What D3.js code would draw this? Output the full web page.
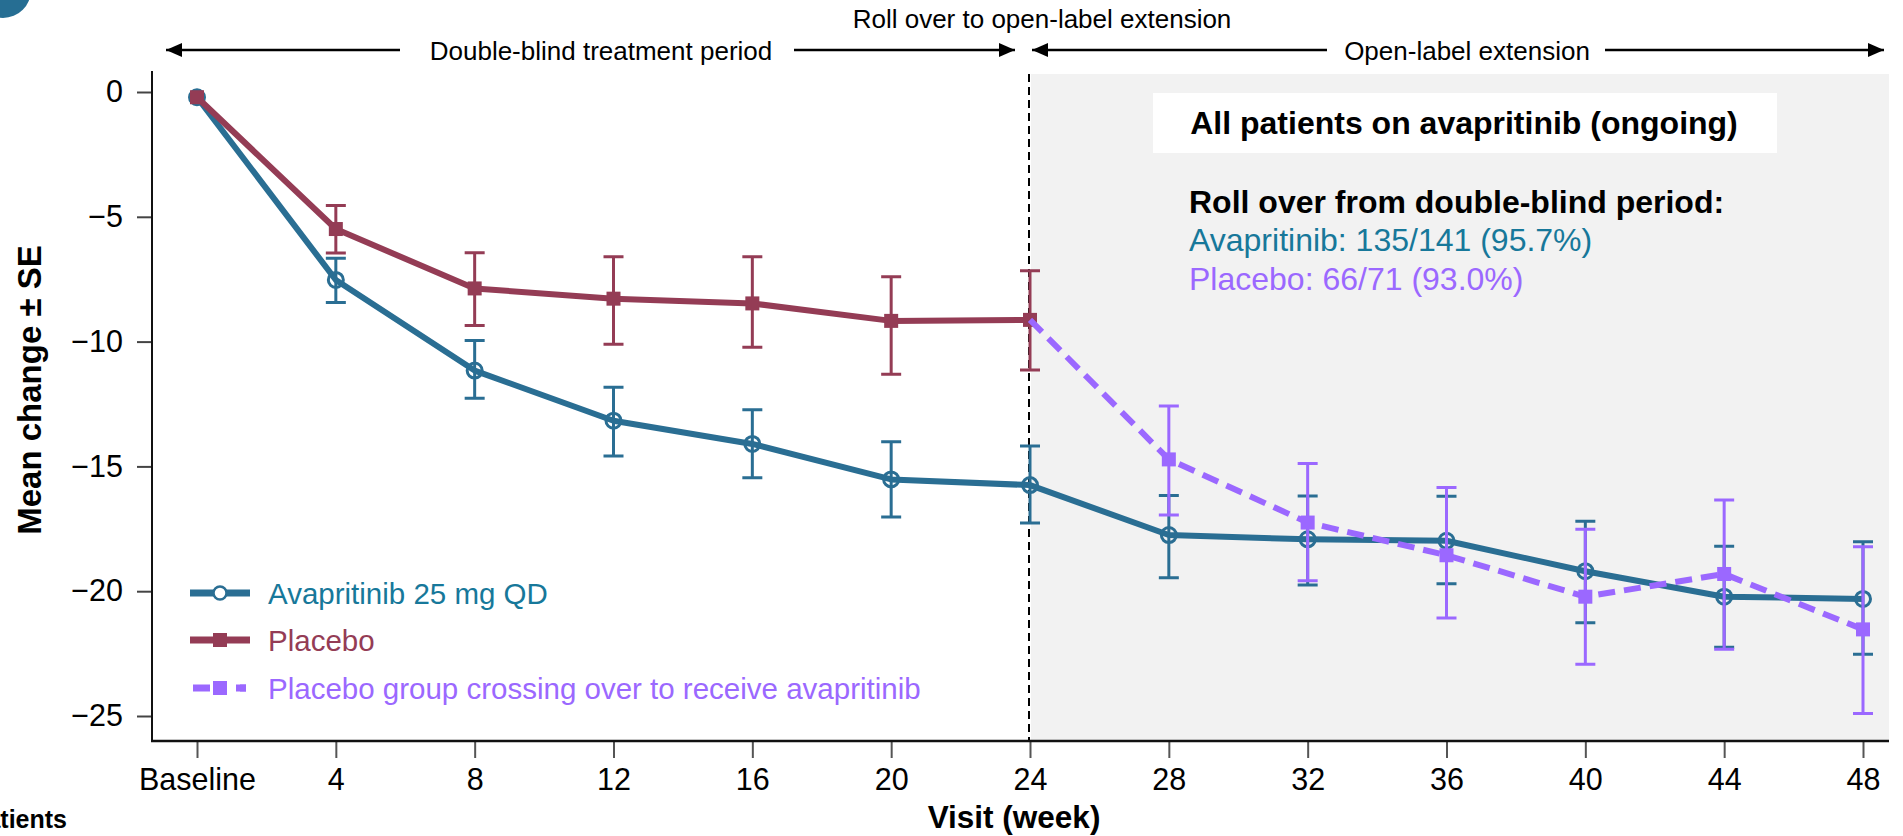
<!DOCTYPE html>
<html>
<head>
<meta charset="utf-8">
<script src="https://cdn.jsdelivr.net/npm/d3@7"></script>
<style>
  html, body { margin: 0; padding: 0; background: #fff; }
  svg { display: block; font-family: "Liberation Sans", Arial, Helvetica, sans-serif; }
</style>
</head>
<body>
<svg id="chart" width="1903" height="836"></svg>
<script>
// ---------------- data ----------------
const weeks = [0, 4, 8, 12, 16, 20, 24, 28, 32, 36, 40, 44, 48];
const xTickLabels = ["Baseline", "4", "8", "12", "16", "20", "24", "28", "32", "36", "40", "44", "48"];
const yTicks = [0, -5, -10, -15, -20, -25];

const avapMean  = [-0.21, -7.53, -11.16, -13.17, -14.10, -15.52, -15.75, -17.75, -17.92, -17.98, -19.20, -20.22, -20.31];
const avapUpper = [-0.21, -6.66,  -9.96, -11.83, -12.73, -14.01, -14.18, -16.17, -16.19, -16.20, -17.20, -18.20, -18.02];
const avapLower = [-0.21, -8.43, -12.27, -14.58, -15.45, -17.03, -17.27, -19.46, -19.75, -19.70, -21.26, -22.25, -22.53];

const placeboWeeks = [0, 4, 8, 12, 16, 20, 24];
const placeboMean  = [-0.21, -5.49, -7.87,  -8.28,  -8.47,  -9.17,  -9.13];
const placeboUpper = [-0.21, -4.55, -6.44,  -6.60,  -6.60,  -7.40,  -7.16];
const placeboLower = [-0.21, -6.45, -9.35, -10.11, -10.23, -11.31, -11.14];

const crossWeeks = [24, 28, 32, 36, 40, 44, 48];
const crossMean  = [-9.13, -14.72, -17.25, -18.56, -20.22, -19.31, -21.53];
const crossUpper = [-9.13, -12.58, -14.88, -15.85, -17.52, -16.35, -18.22];
const crossLower = [-9.13, -16.95, -19.58, -21.07, -22.93, -22.33, -24.90];

const seriesNames = ["Avapritinib 25 mg QD", "Placebo", "Placebo group crossing over to receive avapritinib"];
const colTeal = "#2a6e93", colTealText = "#17789a", colMaroon = "#943c55", colPurple = "#9b68ff";

// ---------------- layout ----------------
const svg = d3.select("#chart");
const x = d3.scaleLinear().domain([0, 48]).range([197, 1863]);
const y = d3.scaleLinear().domain([0, -25]).range([92, 716]);
const plotLeft = 152, plotRight = 1889, plotTop = 71, plotBottom = 741;

// corner badge
svg.append("circle").attr("cx", 3).attr("cy", -10).attr("r", 28).attr("fill", "#266e93");

// open-label shaded region
svg.append("rect").attr("x", x(24) + 1).attr("y", 74)
  .attr("width", plotRight - x(24) - 1).attr("height", plotBottom - 74)
  .attr("fill", "#f2f2f2");

// vertical dashed divider
svg.append("line").attr("x1", x(24) - 1).attr("x2", x(24) - 1)
  .attr("y1", 74).attr("y2", plotBottom)
  .attr("stroke", "#000").attr("stroke-width", 2).attr("stroke-dasharray", "8,5");

// axes
const yAxis = d3.axisLeft(y).tickValues(yTicks).tickSize(15).tickPadding(14)
  .tickFormat(d => d === 0 ? "0" : "\u2212" + Math.abs(d));
const gy = svg.append("g").attr("transform", `translate(${plotLeft},0)`).call(yAxis);
gy.select(".domain").remove();
gy.selectAll(".tick line").attr("stroke", "#444").attr("stroke-width", 2);
gy.selectAll(".tick text").attr("font-size", 30.5).attr("fill", "#000")
  .attr("font-family", "'Liberation Sans', Arial, sans-serif");

const xAxis = d3.axisBottom(x).tickValues(weeks).tickSize(17).tickPadding(10)
  .tickFormat((d, i) => xTickLabels[i]);
const gx = svg.append("g").attr("transform", `translate(0,${plotBottom})`).call(xAxis);
gx.select(".domain").remove();
gx.selectAll(".tick line").attr("stroke", "#555").attr("stroke-width", 2);
gx.selectAll(".tick text").attr("font-size", 30.5).attr("fill", "#000")
  .attr("font-family", "'Liberation Sans', Arial, sans-serif");

svg.append("line").attr("x1", plotLeft).attr("x2", plotLeft).attr("y1", plotTop).attr("y2", plotBottom + 1)
  .attr("stroke", "#111").attr("stroke-width", 2);
svg.append("line").attr("x1", plotLeft - 1).attr("x2", plotRight).attr("y1", plotBottom).attr("y2", plotBottom)
  .attr("stroke", "#111").attr("stroke-width", 2.5);

// axis titles
svg.append("text").attr("transform", "translate(41,390) rotate(-90)")
  .attr("text-anchor", "middle").attr("font-size", 33).attr("font-weight", "bold").text("Mean change \u00b1 SE");
svg.append("text").attr("x", 1014).attr("y", 828).attr("text-anchor", "middle")
  .attr("font-size", 31.5).attr("font-weight", "bold").text("Visit (week)");
svg.append("text").attr("x", 67).attr("y", 828).attr("text-anchor", "end")
  .attr("font-size", 25).attr("font-weight", "bold").text("Number of patients");

// top period arrows
const defs = svg.append("defs");
defs.append("marker").attr("id", "ah").attr("viewBox", "0 0 16 14").attr("refX", 16).attr("refY", 7)
  .attr("markerWidth", 16).attr("markerHeight", 14).attr("markerUnits", "userSpaceOnUse").attr("orient", "auto")
  .append("path").attr("d", "M0,0 L16,7 L0,14 Z").attr("fill", "#000");
const arrowY = 50;
function arrowSeg(x1, x2) {
  svg.append("line").attr("x1", x1).attr("x2", x2).attr("y1", arrowY).attr("y2", arrowY)
    .attr("stroke", "#000").attr("stroke-width", 2.5).attr("marker-end", "url(#ah)");
}
arrowSeg(400, 166);
arrowSeg(794, 1015);
arrowSeg(1327, 1032);
arrowSeg(1605, 1884);
svg.append("text").attr("x", 601).attr("y", 60).attr("text-anchor", "middle").attr("font-size", 26)
  .text("Double-blind treatment period");
svg.append("text").attr("x", 1467).attr("y", 60).attr("text-anchor", "middle").attr("font-size", 26)
  .text("Open-label extension");
svg.append("text").attr("x", 1042).attr("y", 28).attr("text-anchor", "middle").attr("font-size", 26)
  .text("Roll over to open-label extension");

// annotation box
svg.append("rect").attr("x", 1153).attr("y", 93).attr("width", 624).attr("height", 60).attr("fill", "#fff");
svg.append("text").attr("x", 1464).attr("y", 134).attr("text-anchor", "middle").attr("font-size", 32)
  .attr("font-weight", "bold").text("All patients on avapritinib (ongoing)");
svg.append("text").attr("x", 1189).attr("y", 213).attr("font-size", 32).attr("font-weight", "bold")
  .text("Roll over from double-blind period:");
svg.append("text").attr("x", 1189).attr("y", 251).attr("font-size", 32).attr("fill", colTealText)
  .text("Avapritinib: 135/141 (95.7%)");
svg.append("text").attr("x", 1189).attr("y", 290).attr("font-size", 32).attr("fill", colPurple)
  .text("Placebo: 66/71 (93.0%)");

// ---------------- series ----------------
function drawSeries(wk, mean, up, lo, color, opts) {
  const g = svg.append("g");
  const pts = wk.map((w, i) => ({ w, m: mean[i], u: up[i], l: lo[i], i }));
  // error bars
  const eb = pts.filter(p => p.u !== p.l && !(opts.skipFirstBar && p.i === 0));
  g.selectAll(".eb").data(eb).enter().append("path")
    .attr("d", p => `M${x(p.w)},${y(p.u)}V${y(p.l)}M${x(p.w) - 10},${y(p.u)}H${x(p.w) + 10}M${x(p.w) - 10},${y(p.l)}H${x(p.w) + 10}`)
    .attr("stroke", color).attr("stroke-width", 3).attr("fill", "none");
  // line
  g.append("path").datum(pts)
    .attr("d", d3.line().x(p => x(p.w)).y(p => y(p.m)))
    .attr("fill", "none").attr("stroke", color).attr("stroke-width", 6)
    .attr("stroke-linejoin", "round")
    .attr("stroke-dasharray", opts.dash || null);
  // markers
  const mk = pts.filter(p => !(opts.skipFirstMarker && p.i === 0));
  if (opts.marker === "circle") {
    g.selectAll(".mk").data(mk).enter().append("circle")
      .attr("cx", p => x(p.w)).attr("cy", p => y(p.m)).attr("r", 7.5)
      .attr("fill", p => p.i === 0 ? color : "none").attr("stroke", color).attr("stroke-width", 3);
  } else {
    g.selectAll(".mk").data(mk).enter().append("rect")
      .attr("x", p => x(p.w) - 7).attr("y", p => y(p.m) - 7).attr("width", 14).attr("height", 14)
      .attr("fill", color);
  }
}
drawSeries(weeks, avapMean, avapUpper, avapLower, colTeal, { marker: "circle" });
drawSeries(placeboWeeks, placeboMean, placeboUpper, placeboLower, colMaroon, { marker: "square" });
drawSeries(crossWeeks, crossMean, crossUpper, crossLower, colPurple,
  { marker: "square", dash: "17,9", skipFirstMarker: true, skipFirstBar: true });

// ---------------- legend ----------------
const legendRows = [
  { name: seriesNames[0], color: colTeal, text: colTealText, marker: "circle", y: 593 },
  { name: seriesNames[1], color: colMaroon, text: colMaroon, marker: "square", y: 640 },
  { name: seriesNames[2], color: colPurple, text: colPurple, marker: "square", y: 688, dash: true }
];
const lg = svg.append("g");
legendRows.forEach(r => {
  if (r.dash) {
    lg.append("line").attr("x1", 193).attr("x2", 246).attr("y1", r.y).attr("y2", r.y)
      .attr("stroke", r.color).attr("stroke-width", 7).attr("stroke-dasharray", "17,8,6,12");
    lg.append("line").attr("x1", 240).attr("x2", 246).attr("y1", r.y).attr("y2", r.y)
      .attr("stroke", r.color).attr("stroke-width", 7);
  } else {
    lg.append("line").attr("x1", 190).attr("x2", 250).attr("y1", r.y).attr("y2", r.y)
      .attr("stroke", r.color).attr("stroke-width", 7);
  }
  if (r.marker === "circle") {
    lg.append("circle").attr("cx", 220).attr("cy", r.y).attr("r", 6.5)
      .attr("fill", "#fff").attr("stroke", r.color).attr("stroke-width", 2.5);
  } else {
    lg.append("rect").attr("x", 213).attr("y", r.y - 7).attr("width", 14).attr("height", 14).attr("fill", r.color);
  }
  lg.append("text").attr("x", 268).attr("y", r.y + 10.5).attr("font-size", 29.5).attr("fill", r.text).text(r.name);
});
</script>
</body>
</html>
